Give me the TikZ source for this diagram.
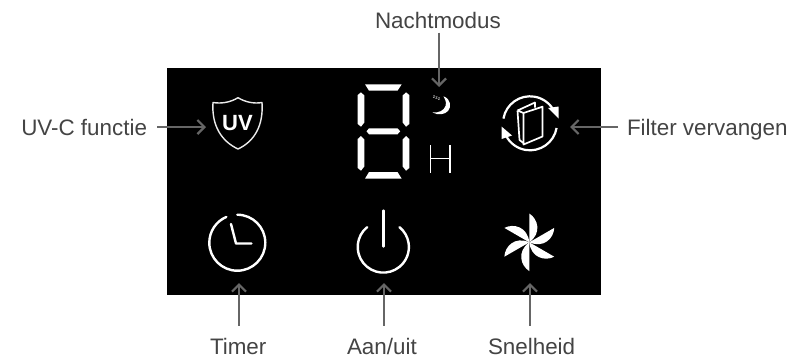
\documentclass[tikz,border=0pt]{standalone}
\usepackage{fontspec}
\setmainfont{Liberation Sans}
\usetikzlibrary{arrows.meta}
\definecolor{arrowgray}{HTML}{666666}
\definecolor{labeltext}{HTML}{444444}
\tikzset{
  lbl/.style={font=\fontsize{22.4}{24}\selectfont, text=labeltext, inner sep=0pt, outer sep=0pt},
  arr/.style={draw=arrowgray, line width=2.2pt, -{Straight Barb[length=7pt,width=14pt,line width=2.2pt]}},
  ico/.style={draw=white, line width=2.4pt, line cap=round, line join=round},
  seg/.style={fill=white, draw=none},
  blade/.style={fill=white, draw=none}
}
\begin{document}
\begin{tikzpicture}[x=1pt,y=-1pt]
\useasboundingbox (0,0) rectangle (792,357);
\fill[white] (0,0) rectangle (792,357);
\fill[black] (167,68) rectangle (601,295);

% shield
\draw[draw=white!92!black, line width=1.4pt, line join=round]
  (213,102.5) .. controls (222,104) and (231,102) .. (238,97.7)
  .. controls (245,102) and (254,104) .. (262,102.5)
  .. controls (263.5,125) and (255,141) .. (238,149)
  .. controls (221,141) and (211.5,125) .. (213,102.5) -- cycle;
\node[inner sep=0pt, text=white, font=\fontsize{22}{24}\selectfont\bfseries] (uvtxt) at (237.5,123.5) {UV};

% seven segment digit
\fill[seg] (365,84.3) -- (401.7,84.3) -- (397.5,90.7) -- (369,90.7) -- cycle;
\fill[seg] (357.7,95) -- (361,92.3) -- (364.3,95.5) -- (364.3,122.5) -- (361,126.7) -- (357.7,124) -- cycle;
\fill[seg] (402.7,95.5) -- (406,92.3) -- (409.3,95) -- (409.3,124) -- (406,126.7) -- (402.7,122.5) -- cycle;
\fill[seg] (369,128.3) -- (397.5,128.3) -- (400.2,131.3) -- (397.5,134.3) -- (369,134.3) -- (366.5,131.3) -- cycle;
\fill[seg] (357.7,139) -- (361,136) -- (364.3,139.5) -- (364.3,166.5) -- (361,170.7) -- (357.7,168) -- cycle;
\fill[seg] (402.7,139.5) -- (406,136) -- (409.3,139) -- (409.3,168) -- (406,170.7) -- (402.7,166.5) -- cycle;
\fill[seg] (369,172) -- (397.5,172) -- (401.7,178.7) -- (365,178.7) -- cycle;

% H
\draw[draw=white, line width=1.6pt] (430.6,145) -- (430.6,173.3) (450,145) -- (450,173.3) (430.6,158.5) -- (450,158.5);

% moon
\fill[white] (443.5,96.3) .. controls (451,99) and (451.5,107) .. (448,111)
  .. controls (445,114.5) and (438,115.5) .. (432.5,112.5)
  .. controls (439,113) and (444,110.5) .. (445.5,106)
  .. controls (446.5,102.5) and (445.5,99) .. (443.5,96.3) -- cycle;
\node[inner sep=0pt, text=white!70!black, font=\fontsize{5}{5}\selectfont\bfseries] (zzz) at (436.5,98.5) {z\raisebox{-1pt}{z}\raisebox{-2pt}{z}};

% filter icon
\coordinate (flt) at (530,123.3);
\draw[ico, line width=2.2pt, line cap=butt] (flt) ++(-170:27) arc[start angle=-170, end angle=-28, radius=27];
\draw[ico, line width=2.2pt, line cap=butt] (flt) ++(10:27) arc[start angle=10, end angle=152, radius=27];
\fill[white] (548,108) -- (558.5,106.5) -- (558.5,118.5) -- cycle;
\fill[white] (501.5,139) -- (501.5,126.5) -- (512,135.5) -- cycle;
\draw[draw=white, line width=1.7pt, line join=round] (523.5,113) -- (542.5,106.7) -- (542.5,136.5) -- (523.5,144.5) -- cycle;
\draw[draw=white, line width=1.7pt, line join=round] (517.5,110.5) -- (535,102.5) -- (535,107.5) (517.5,110.5) -- (523.5,113) (517.5,110.5) -- (519.5,140) -- (523.5,143);

% clock
\coordinate (clk) at (237.3,242.7);
\draw[ico] (clk) ++(-90:28) arc[start angle=-90, end angle=247, radius=28];
\draw[ico] (231,224) -- (236,243.5) -- (251.5,243.5);

% power
\coordinate (pwr) at (383.3,247);
\draw[ico] (pwr) ++(-129:25.6) arc[start angle=-129, end angle=-411, radius=25.6];
\draw[ico] (383.3,210.5) -- (383.3,246.5);

% fan
\foreach \a in {0,60,120,180,240,300}{
  \fill[blade, rotate around={\a:(529.3,242.3)}] (529.3,242.3) -- (529.3,213.5)
    .. controls (538,219) and (542,233) .. (529.3,242.3) -- cycle;
}

% connector end points on the icons
\coordinate (tipUV) at (206,127);
\coordinate (tipNight) at (439,87);
\coordinate (tipFilter) at (570,127);
\coordinate (tipTimer) at (239,283);
\coordinate (tipPower) at (384,283);
\coordinate (tipFan) at (530,283);

% labels
\node[lbl, anchor=base east] (lblUV) at (147,135) {UV-C functie};
\node[lbl, anchor=base west] (lblNight) at (375,28.5) {Nachtmodus};
\node[lbl, anchor=base west] (lblFilter) at (627,135) {Filter vervangen};
\node[lbl, anchor=base west] (lblTimer) at (210,354) {Timer};
\node[lbl, anchor=base west] (lblPower) at (347,354) {Aan/uit};
\node[lbl, anchor=base west] (lblFan) at (488,354) {Snelheid};

% connectors
\draw[arr, shorten <=10pt] (lblUV.east |- tipUV) -- (tipUV);
\draw[arr, shorten <=4pt] (tipNight |- lblNight.south) -- (tipNight);
\draw[arr, shorten <=9pt] (lblFilter.west |- tipFilter) -- (tipFilter);
\draw[arr, shorten <=12pt] (tipTimer |- lblTimer.north) -- (tipTimer);
\draw[arr, shorten <=12pt] (tipPower |- lblTimer.north) -- (tipPower);
\draw[arr, shorten <=12pt] (tipFan |- lblTimer.north) -- (tipFan);
\end{tikzpicture}
\end{document}
